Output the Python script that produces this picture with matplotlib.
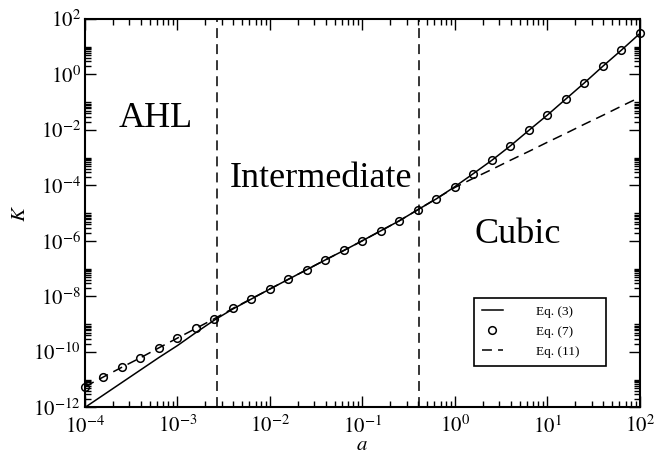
import matplotlib
matplotlib.use("Agg")
import matplotlib.pyplot as plt
from matplotlib.ticker import FixedLocator, FuncFormatter, NullFormatter
import numpy as np

plt.rcParams['font.family'] = ['Liberation Serif', 'DejaVu Serif']
plt.rcParams['mathtext.fontset'] = 'stix'

# log10(a) of the sample points (5 per decade)
log_a = [-4.0, -3.8, -3.6, -3.4, -3.2, -3.0, -2.8, -2.6, -2.4, -2.2,
         -2.0, -1.8, -1.6, -1.4, -1.2, -1.0, -0.8, -0.6, -0.4, -0.2,
         0.0, 0.2, 0.4, 0.6, 0.8, 1.0, 1.2, 1.4, 1.6, 1.8, 2.0]

# log10(K)
log_k_eq7 = [-11.25, -10.90, -10.55, -10.21, -9.85, -9.50, -9.15, -8.80, -8.43, -8.08,
             -7.73, -7.38, -7.03, -6.68, -6.34, -5.99, -5.63, -5.27, -4.87, -4.48,
             -4.04, -3.57, -3.09, -2.57, -2.01, -1.46, -0.88, -0.30, 0.30, 0.88, 1.48]

log_k_eq3 = [-12.00, -11.55, -11.10, -10.65, -10.20, -9.77, -9.30, -8.85, -8.45, -8.09,
             -7.73, -7.38, -7.03, -6.68, -6.34, -5.99, -5.63, -5.27, -4.87, -4.48,
             -4.04, -3.57, -3.09, -2.57, -2.01, -1.46, -0.88, -0.30, 0.30, 0.88, 1.48]

log_k_eq11 = [-11.25, -10.90, -10.55, -10.21, -9.85, -9.50, -9.15, -8.80, -8.43, -8.08,
              -7.73, -7.38, -7.03, -6.68, -6.34, -5.99, -5.63, -5.27, -4.87, -4.47,
              -4.07, -3.74, -3.42, -3.09, -2.77, -2.44, -2.12, -1.79, -1.47, -1.14, -0.82]

boundaries = [2.65e-3, 0.41]                       # regime borders
regions = ["AHL", "Intermediate", "Cubic"]

a = 10.0 ** np.array(log_a)
k3 = 10.0 ** np.array(log_k_eq3)
k7 = 10.0 ** np.array(log_k_eq7)
k11 = 10.0 ** np.array(log_k_eq11)

fig = plt.figure(figsize=(6.58, 4.63), dpi=100)
ax = fig.add_axes([0.129, 0.1199, 0.8436, 0.8391])

dash = (0, (6.5, 4))
ax.plot(a, k3, color="black", lw=1.1, label="Eq. (3)")
ax.plot(a, k7, ls="none", marker="o", ms=5.5, mfc="none", mec="black", mew=1.1,
        label="Eq. (7)", clip_on=False, zorder=3)
ax.plot(a, k11, color="black", lw=1.1, ls=dash, label="Eq. (11)")
for b in boundaries:
    ax.axvline(b, color="black", lw=1.1, ls=dash)

ax.set_xscale("log")
ax.set_yscale("log")
ax.set_xlim(1e-4, 1e2)
ax.set_ylim(1e-12, 1e2)

ax.xaxis.set_major_locator(FixedLocator(10.0 ** np.arange(-4, 3)))
ax.xaxis.set_minor_locator(FixedLocator([n * 10.0 ** e for e in range(-4, 2) for n in range(2, 10)]))
ax.yaxis.set_major_locator(FixedLocator(10.0 ** np.arange(-12, 3, 2)))
ax.yaxis.set_minor_locator(FixedLocator([n * 10.0 ** e for e in range(-12, 2, 2) for n in range(2, 11)]))
fmt = FuncFormatter(lambda v, p: r"$10^{%d}$" % round(np.log10(v)))
ax.xaxis.set_major_formatter(fmt)
ax.yaxis.set_major_formatter(fmt)
ax.xaxis.set_minor_formatter(NullFormatter())
ax.yaxis.set_minor_formatter(NullFormatter())

ax.tick_params(which="both", direction="in", top=True, right=True, width=1.0, labelsize=15)
ax.tick_params(which="major", length=8)
ax.tick_params(which="minor", length=4)
ax.tick_params(axis="x", pad=6)
ax.tick_params(axis="y", pad=3)
for s in ax.spines.values():
    s.set_linewidth(1.5)

ax.set_xlabel("$a$", fontsize=15, labelpad=-1)
ax.set_ylabel("$K$", fontsize=15, labelpad=2)

ax.text(0.061, 0.722, regions[0], transform=ax.transAxes, fontsize=26)
ax.text(0.261, 0.5676, regions[1], transform=ax.transAxes, fontsize=26)
ax.text(0.7027, 0.4234, regions[2], transform=ax.transAxes, fontsize=26)

leg = ax.legend(loc="lower left", bbox_to_anchor=(0.701, 0.107, 0.238, 0.177), mode="expand",
                fontsize=9.5, frameon=True, fancybox=False, framealpha=1, edgecolor="black",
                handlelength=1.6, handletextpad=2.5, labelspacing=0.6, borderpad=0.6,
                borderaxespad=0)
leg.get_frame().set_linewidth(1.2)

fig.savefig("out.png", dpi=100)
